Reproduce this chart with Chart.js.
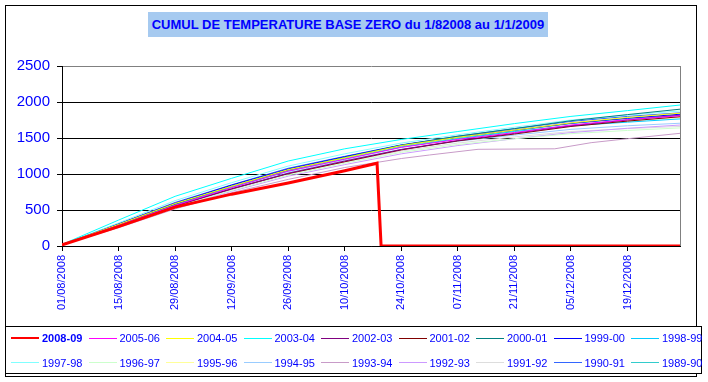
<!DOCTYPE html>
<html><head><meta charset="utf-8">
<script src="https://cdn.jsdelivr.net/npm/chart.js@4/dist/chart.umd.min.js"></script>
<style>
html,body{margin:0;padding:0;background:#fff}
#wrap{position:relative;width:708px;height:382px;overflow:hidden;background:#fff;font-family:"Liberation Sans",Arial,sans-serif}
#frame{position:absolute;left:5px;top:5px;width:692px;height:372px;border:1px solid #000;box-sizing:border-box}
#c{position:absolute;left:0;top:0}
#title{position:absolute;left:148px;top:12px;width:400px;height:25px;background:#A6CAF0;color:#0000FF;font-weight:bold;font-size:13px;line-height:25px;text-align:center;white-space:nowrap}
#legend{position:absolute;left:5px;top:326px;width:697px;height:48px;border:1px solid #000;box-sizing:border-box;background:#fff}
.item{position:absolute;height:14px;display:flex;align-items:center;font-size:11px;color:#0000FF;white-space:nowrap}
.sw{width:28px;margin-right:3px}
</style></head>
<body>
<div id="wrap">
  <div id="frame"></div>
  <canvas id="c" width="708" height="382"></canvas>
  <div id="title">CUMUL DE TEMPERATURE BASE ZERO du 1/82008 au 1/1/2009</div>
  <div id="legend"></div>
</div>
<script>
// ---- data ----
const tickLabels = ['01/08/2008','15/08/2008','29/08/2008','12/09/2008','26/09/2008','10/10/2008','24/10/2008','07/11/2008','21/11/2008','05/12/2008','19/12/2008'];
const seasons = ['2008-09','2005-06','2004-05','2003-04','2002-03','2001-02','2000-01','1999-00','1998-99','1997-98','1996-97','1995-96','1994-95','1993-94','1992-93','1991-92','1990-91','1989-90'];
const colors  = ['#FF0000','#FF00FF','#FFFF00','#00FFFF','#800080','#800000','#008080','#0000FF','#00CCFF','#80FFFF','#CCFFCC','#FFFF99','#99CCFF','#C89BC8','#CC99FF','#DDDDDD','#3366FF','#33CCCC'];

const days     = [0, 14, 28, 42, 56, 70, 84, 98, 112, 126, 140, 153];
const days2008 = [0, 14, 28, 42, 56, 70, 78, 79, 153];
const days1993 = [0, 14, 28, 42, 56, 70, 84, 91, 103, 122, 131, 140, 153];

const v2008_09 = [15, 270, 540, 720, 875, 1046, 1150, 0, 0];
const v2005_06 = [18, 285, 565, 810, 1040, 1205, 1370, 1480, 1575, 1680, 1755, 1810];
const v2004_05 = [20, 300, 590, 830, 1060, 1225, 1395, 1510, 1610, 1710, 1785, 1845];
const v2003_04 = [22, 360, 690, 940, 1180, 1350, 1480, 1590, 1700, 1800, 1880, 1958];
const v2002_03 = [17, 275, 555, 790, 1010, 1180, 1340, 1465, 1565, 1670, 1750, 1815];
const v2001_02 = [17, 280, 560, 795, 1005, 1170, 1335, 1460, 1555, 1660, 1735, 1795];
const v2000_01 = [19, 295, 580, 830, 1055, 1230, 1400, 1525, 1630, 1740, 1825, 1900];
const v1999_00 = [19, 305, 595, 845, 1070, 1240, 1400, 1515, 1610, 1705, 1775, 1830];
const v1998_99 = [18, 290, 575, 815, 1040, 1210, 1375, 1490, 1590, 1670, 1720, 1765];
const v1997_98 = [20, 320, 630, 880, 1110, 1280, 1430, 1545, 1650, 1750, 1820, 1875];
const v1996_97 = [17, 270, 540, 770, 985, 1150, 1300, 1410, 1490, 1560, 1605, 1640];
const v1995_96 = [18, 290, 575, 820, 1045, 1215, 1375, 1490, 1580, 1675, 1735, 1785];
const v1994_95 = [18, 285, 560, 800, 1020, 1190, 1345, 1455, 1540, 1620, 1670, 1705];
const v1993_94 = [15, 255, 515, 740, 925, 1090, 1215, 1264, 1343, 1350, 1435, 1490, 1565];
const v1992_93 = [16, 265, 530, 760, 970, 1130, 1280, 1395, 1490, 1575, 1635, 1680];
const v1991_92 = [17, 275, 550, 785, 1000, 1165, 1320, 1430, 1515, 1590, 1630, 1660];
const v1990_91 = [20, 310, 605, 850, 1080, 1245, 1405, 1525, 1630, 1730, 1800, 1850];
const v1989_90 = [19, 300, 585, 825, 1050, 1220, 1385, 1500, 1600, 1700, 1770, 1820];

const seriesValues = [v2008_09,v2005_06,v2004_05,v2003_04,v2002_03,v2001_02,v2000_01,v1999_00,v1998_99,v1997_98,v1996_97,v1995_96,v1994_95,v1993_94,v1992_93,v1991_92,v1990_91,v1989_90];
const seriesDays = seriesValues.map((v,i) => i === 0 ? days2008 : (i === 13 ? days1993 : days));

// ---- chart ----
const FONT = '"Liberation Sans", Arial, sans-serif';
const datasets = seasons.map((name, i) => ({
  label: name,
  data: seriesValues[i].map((y, k) => ({x: seriesDays[i][k], y})),
  borderColor: colors[i],
  backgroundColor: colors[i],
  borderWidth: i === 0 ? 3 : 1,
  pointRadius: 0,
  tension: 0,
  fill: false
}));

const plotBorder = {
  id: 'plotBorder',
  beforeDatasetsDraw(chart) {
    const {ctx, chartArea: a} = chart;
    ctx.save();
    ctx.strokeStyle = '#808080';
    ctx.lineWidth = 1;
    ctx.beginPath();
    ctx.moveTo(Math.round(a.right) + 0.5, a.top);
    ctx.lineTo(Math.round(a.right) + 0.5, a.bottom);
    ctx.stroke();
    ctx.restore();
  }
};

new Chart(document.getElementById('c'), {
  type: 'line',
  data: {datasets},
  options: {
    responsive: false,
    animation: false,
    layout: {padding: {left: 10, top: 66, right: 28, bottom: 66}},
    plugins: {legend: {display: false}, title: {display: false}, tooltip: {enabled: false}},
    scales: {
      x: {
        type: 'linear', min: 0, max: 153,
        afterBuildTicks: s => { s.ticks = tickLabels.map((t, i) => ({value: i * 14})); },
        ticks: {
          autoSkip: false, maxRotation: 90, minRotation: 90, padding: 4,
          color: '#0000FF', font: {family: FONT, size: 11},
          callback: v => tickLabels[Math.round(v / 14)] || ''
        },
        grid: {drawOnChartArea: false, drawTicks: true, tickLength: 5, tickColor: '#000000'},
        border: {color: '#000000', width: 1},
        afterFit: s => { s.height = 70; }
      },
      y: {
        min: 0, max: 2500,
        ticks: {stepSize: 500, padding: 7, color: '#0000FF', font: {family: FONT, size: 15}, callback: v => String(v)},
        grid: {color: c => (c.tick && c.tick.value === 2500) ? '#808080' : '#000000', tickLength: 5, tickColor: '#000000'},
        border: {color: '#000000', width: 1},
        afterFit: s => { s.width = 52; }
      }
    }
  },
  plugins: [plotBorder]
});

// ---- legend (HTML, real text) ----
const leg = document.getElementById('legend');
seasons.forEach((name, i) => {
  const col = i % 9, row = Math.floor(i / 9);
  const it = document.createElement('div');
  it.className = 'item';
  it.style.left = (5 + col * 77.5) + 'px';
  it.style.top = (row === 0 ? 4 : 28.5) + 'px';
  const sw = document.createElement('div');
  sw.className = 'sw';
  sw.style.height = (i === 0 ? 2 : 1) + 'px';
  sw.style.background = colors[i];
  const tx = document.createElement('span');
  tx.textContent = name;
  if (i === 0) tx.style.fontWeight = 'bold';
  it.appendChild(sw); it.appendChild(tx);
  leg.appendChild(it);
});
</script>
</body></html>
